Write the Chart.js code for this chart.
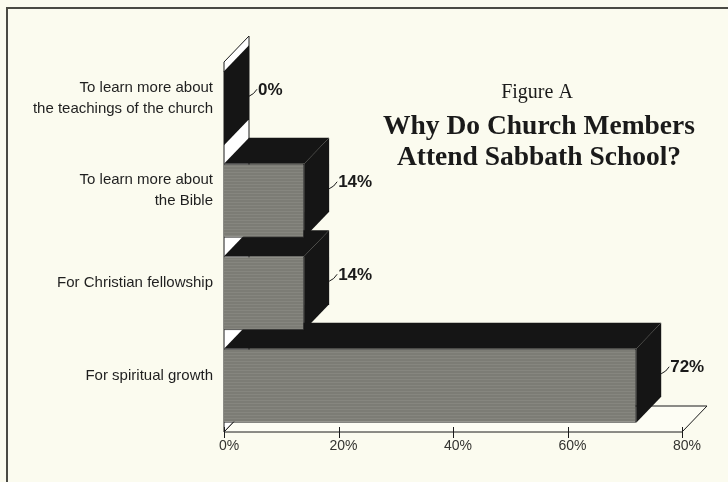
<!DOCTYPE html>
<html>
<head>
<meta charset="utf-8">
<script src="https://cdn.jsdelivr.net/npm/chart.js@4.4.0/dist/chart.umd.min.js"></script>
<style>
html, body { margin: 0; padding: 0; background: #fbfbef; }
#wrap { width: 728px; height: 482px; position: relative; }
</style>
</head>
<body>
<div id="wrap"><canvas id="chart"></canvas></div>
<script>
// Chart data
const categories = [
    ['To learn more about', 'the teachings of the church'],
    ['To learn more about', 'the Bible'],
    'For Christian fellowship',
    'For spiritual growth'
];
const percentages = [0, 14, 14, 72];
const xTicks = [0, 20, 40, 60, 80];
const titleLines = ['Figure A', 'Why Do Church Members', 'Attend Sabbath School?'];

// Oblique depth of the 3D boxes
const DEPTH_X = 25;
const DEPTH_Y = 26;
const SANS = "'Liberation Sans', Arial, sans-serif";
const SERIF = "'Liberation Serif', 'Times New Roman', serif";

function poly(ctx, pts) {
    ctx.beginPath();
    ctx.moveTo(pts[0][0], pts[0][1]);
    for (let i = 1; i < pts.length; i++) ctx.lineTo(pts[i][0], pts[i][1]);
    ctx.closePath();
}

// faint horizontal hatching like the printed grey
function barPattern() {
    const c = document.createElement('canvas');
    c.width = 8;
    c.height = 3;
    const g = c.getContext('2d');
    g.fillStyle = '#7c7c75';
    g.fillRect(0, 0, 8, 3);
    g.fillStyle = '#86867f';
    g.fillRect(0, 1, 8, 1);
    return g.createPattern(c, 'repeat');
}

const box3d = {
    id: 'box3d',
    beforeDraw(chart) {
        const ctx = chart.ctx;
        ctx.save();
        ctx.fillStyle = '#fbfbef';
        ctx.fillRect(0, 0, chart.width, chart.height);
        // frame
        ctx.strokeStyle = '#4a4a44';
        ctx.lineWidth = 2;
        ctx.beginPath();
        ctx.moveTo(7, chart.height);
        ctx.lineTo(7, 8);
        ctx.lineTo(chart.width, 8);
        ctx.stroke();
        ctx.restore();
    },
    beforeDatasetsDraw(chart) {
        const ctx = chart.ctx;
        const a = chart.chartArea;
        const xs = chart.scales.x;
        ctx.save();
        ctx.lineWidth = 1;
        ctx.strokeStyle = '#1a1a1a';
        // left wall
        ctx.fillStyle = '#ffffff';
        poly(ctx, [[a.left, a.top], [a.left, a.bottom], [a.left + DEPTH_X, a.bottom - DEPTH_Y], [a.left + DEPTH_X, a.top - DEPTH_Y]]);
        ctx.fill();
        ctx.stroke();
        // floor
        ctx.fillStyle = '#fdfdf4';
        poly(ctx, [[a.left, a.bottom], [a.right, a.bottom], [a.right + DEPTH_X, a.bottom - DEPTH_Y], [a.left + DEPTH_X, a.bottom - DEPTH_Y]]);
        ctx.fill();
        ctx.stroke();
        // ticks on the front edge
        xTicks.forEach(v => {
            const px = Math.round(xs.getPixelForValue(v)) + 0.5;
            ctx.beginPath();
            ctx.moveTo(px, a.bottom - 5);
            ctx.lineTo(px, a.bottom + 6);
            ctx.stroke();
        });
        // top and side faces, bottom bar first
        const meta = chart.getDatasetMeta(0);
        ctx.fillStyle = '#151515';
        for (let i = meta.data.length - 1; i >= 0; i--) {
            const b = meta.data[i].getProps(['x', 'y', 'base', 'height'], true);
            const yt = b.y - b.height / 2;
            const yb = b.y + b.height / 2;
            poly(ctx, [[b.base, yt], [b.x, yt], [b.x + DEPTH_X, yt - DEPTH_Y], [b.base + DEPTH_X, yt - DEPTH_Y]]);
            ctx.fill();
            poly(ctx, [[b.x, yt], [b.x, yb], [b.x + DEPTH_X, yb - DEPTH_Y], [b.x + DEPTH_X, yt - DEPTH_Y]]);
            ctx.fill();
        }
        ctx.restore();
    },
    afterDatasetsDraw(chart) {
        const ctx = chart.ctx;
        const meta = chart.getDatasetMeta(0);
        ctx.save();
        ctx.font = 'bold 17px ' + SANS;
        ctx.fillStyle = '#1a1a1a';
        ctx.strokeStyle = '#1a1a1a';
        ctx.lineWidth = 1;
        ctx.textBaseline = 'middle';
        meta.data.forEach((bar, i) => {
            const b = bar.getProps(['x', 'y'], true);
            const ex = b.x + DEPTH_X;
            ctx.beginPath();
            ctx.moveTo(ex, b.y - 12);
            ctx.quadraticCurveTo(ex + 5, b.y - 14, ex + 8, b.y - 19);
            ctx.stroke();
            ctx.fillText(percentages[i] + '%', ex + 9, b.y - 18);
        });
        ctx.restore();
    },
    afterDraw(chart) {
        const ctx = chart.ctx;
        ctx.save();
        ctx.fillStyle = '#1a1a1a';
        ctx.textAlign = 'center';
        ctx.textBaseline = 'alphabetic';
        ctx.font = '20px ' + SERIF;
        ctx.fillText(titleLines[0], 537, 98);
        ctx.font = 'bold 27.5px ' + SERIF;
        ctx.fillText(titleLines[1], 539, 134);
        ctx.fillText(titleLines[2], 539, 165);
        ctx.restore();
    }
};

const ctx = document.getElementById('chart').getContext('2d');
const chart = new Chart(ctx, {
    type: 'bar',
    data: {
        labels: categories,
        datasets: [{
            data: percentages,
            backgroundColor: barPattern(),
            borderColor: '#2a2a2a',
            borderWidth: 1,
            barPercentage: 0.8,
            categoryPercentage: 1
        }]
    },
    options: {
        indexAxis: 'y',
        responsive: true,
        maintainAspectRatio: false,
        animation: false,
        layout: {
            padding: { top: 62, right: 46, left: 0, bottom: 0 }
        },
        plugins: {
            legend: { display: false },
            tooltip: { enabled: false }
        },
        scales: {
            x: {
                min: 0,
                max: 80,
                grid: { display: false, drawTicks: false },
                border: { display: false },
                afterBuildTicks: scale => {
                    scale.ticks = xTicks.map(v => ({ value: v }));
                },
                afterFit: scale => { scale.height = 50; },
                ticks: {
                    padding: 6,
                    labelOffset: 5,
                    color: '#333330',
                    font: { size: 14, family: SANS },
                    callback: v => v + '%'
                }
            },
            y: {
                grid: { display: false, drawTicks: false },
                border: { display: false },
                afterFit: scale => { scale.width = 224; },
                ticks: {
                    padding: 11,
                    labelOffset: -10,
                    color: '#1f1f1f',
                    font: { size: 15, family: SANS, lineHeight: 1.4 }
                }
            }
        }
    },
    plugins: [box3d]
});
</script>
</body>
</html>
